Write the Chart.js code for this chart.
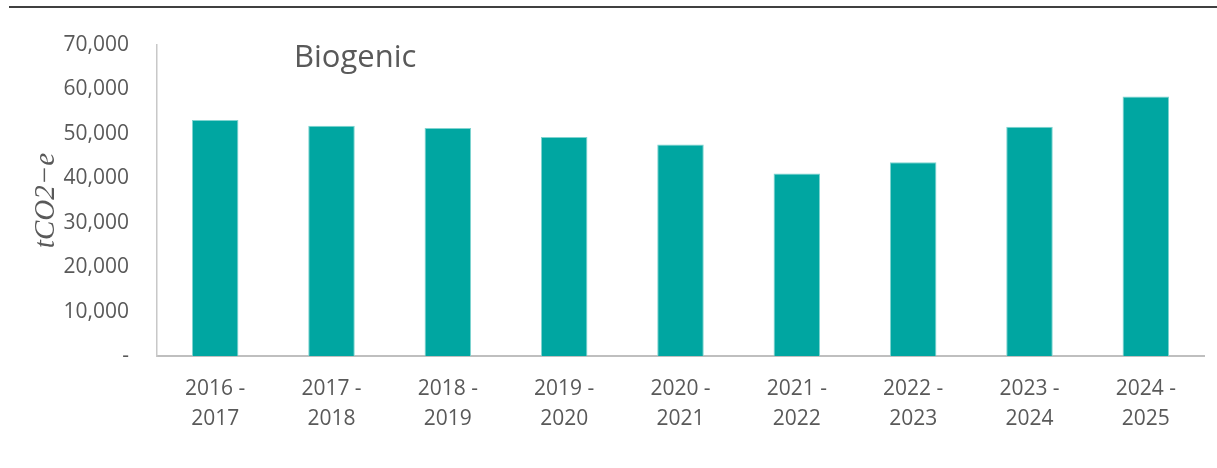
<!DOCTYPE html>
<html>
<head>
<meta charset="utf-8">
<script src="https://cdn.jsdelivr.net/npm/chart.js@4/dist/chart.umd.min.js"></script>
<style>
  html, body { margin: 0; padding: 0; background: #fff; }
  #wrap { width: 1217px; height: 468px; position: relative; }
</style>
</head>
<body>
<div id="wrap"><canvas id="biogenicChart"></canvas></div>
<script>
const periods = [
    ["2016 -", "2017"], ["2017 -", "2018"], ["2018 -", "2019"],
    ["2019 -", "2020"], ["2020 -", "2021"], ["2021 -", "2022"],
    ["2022 -", "2023"], ["2023 -", "2024"], ["2024 -", "2025"]
];
const biogenic = [53100, 51800, 51300, 49300, 47600, 41100, 43600, 51600, 58400];
const yTicks = [0, 10000, 20000, 30000, 40000, 50000, 60000, 70000];

const textGrey = "#595959";

// heading inside the plot and the rule across the top
const decor = {
    id: "decor",
    afterDraw(chart) {
        const c = chart.ctx;
        c.save();
        c.strokeStyle = "#000";
        c.lineWidth = 1.5;
        c.beginPath();
        c.moveTo(9, 7);
        c.lineTo(1217, 7);
        c.stroke();
        c.fillStyle = textGrey;
        c.font = "31px 'Open Sans'";
        c.textBaseline = "middle";
        c.fillText("Biogenic", 294, 58);
        c.restore();
    }
};

new Chart(document.getElementById("biogenicChart"), {
    type: "bar",
    data: {
        labels: periods,
        datasets: [{
            label: "Biogenic",
            data: biogenic,
            backgroundColor: "#00A6A1",
            borderColor: "#7fd4d0",
            borderWidth: 1,
            barPercentage: 0.4,
            categoryPercentage: 1
        }]
    },
    options: {
        responsive: true,
        maintainAspectRatio: false,
        animation: false,
        layout: { padding: { top: 45, right: 13, left: 0, bottom: 0 } },
        plugins: {
            legend: { display: false },
            tooltip: { enabled: false }
        },
        scales: {
            x: {
                grid: { display: false, drawTicks: false },
                border: { color: "#bfbfbf", width: 2 },
                ticks: {
                    color: textGrey,
                    padding: 18,
                    maxRotation: 0,
                    font: { family: "'Open Sans'", size: 21, lineHeight: 1.43 }
                },
                afterFit(scale) { scale.height = 112; }
            },
            y: {
                min: 0,
                max: 70000,
                afterBuildTicks(scale) {
                    scale.ticks = yTicks.map(v => ({ value: v }));
                },
                grid: { display: false, drawTicks: false },
                border: { color: "#c8c8c8", width: 1.5 },
                ticks: {
                    color: textGrey,
                    padding: 28,
                    font: { family: "'Open Sans'", size: 21 },
                    callback: function (value) {
                        if (value === 0) return "-";
                        return value.toString().replace(/\B(?=(\d{3})+(?!\d))/g, ",");
                    }
                },
                title: {
                    display: true,
                    text: "tCO2\u2212e",
                    color: textGrey,
                    padding: { top: 29 },
                    font: { family: "'Liberation Serif'", style: "italic", size: 29, lineHeight: 1.2 }
                },
                afterFit(scale) { scale.width = 157; }
            }
        }
    },
    plugins: [decor]
});
</script>
</body>
</html>
